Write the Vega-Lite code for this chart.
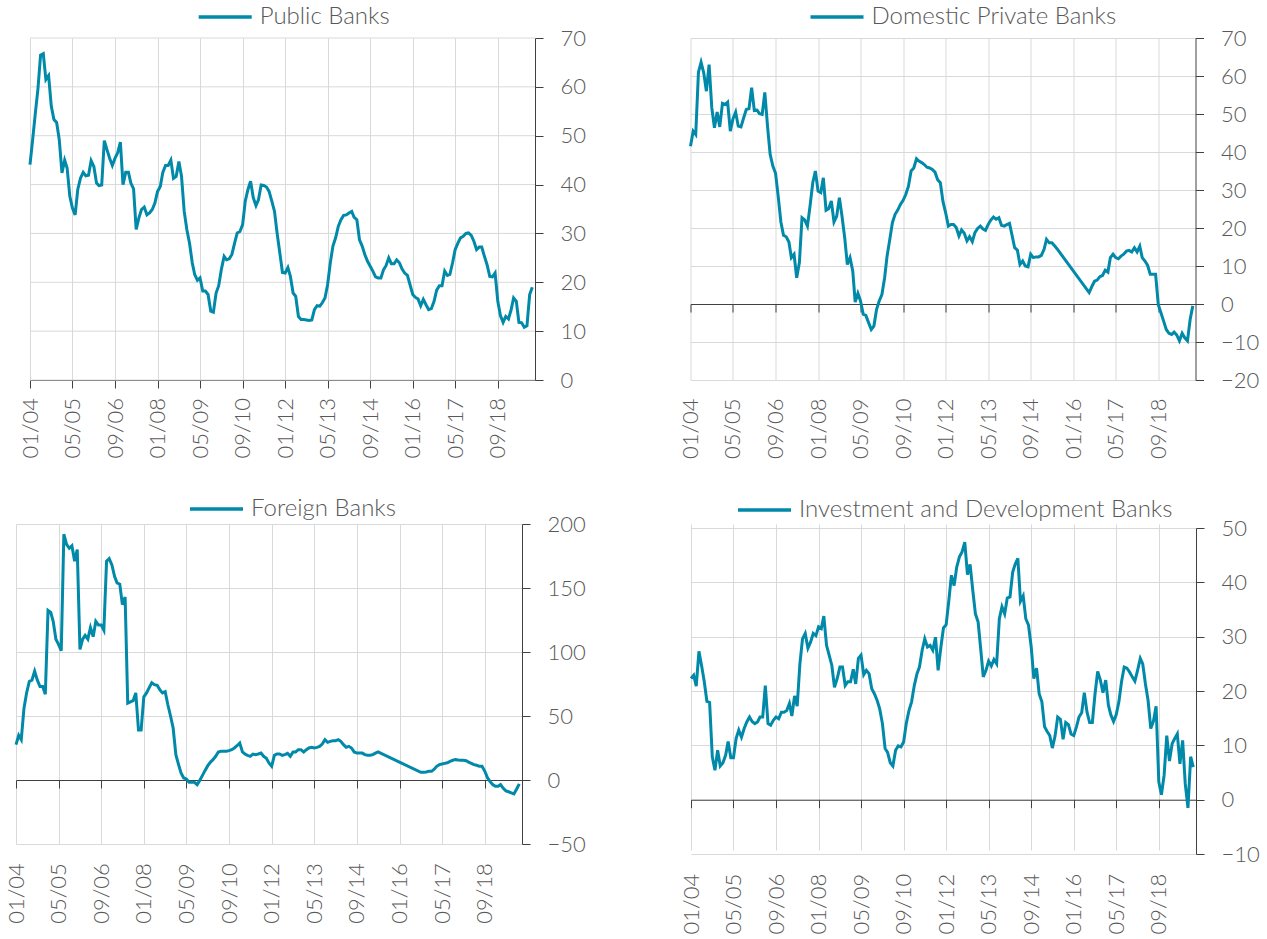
{
"$schema": "https://vega.github.io/schema/vega-lite/v6.json",
"padding": {"left": 5, "top": 4, "right": 5, "bottom": 5},
"background": "white",
"columns": 1,
"spacing": 37,
"resolve": {"scale": {"color": "independent"}, "legend": {"color": "independent"}},
"data": {"values": [
{"d":"2004/01/01","a":44.1,"b":41.5,"c":27.6,"i":22.3},
{"d":"2004/02/01","a":49.3,"b":45.5,"c":34.9,"i":22.9},
{"d":"2004/03/01","a":54.4,"b":44.6,"c":31.5,"i":20.9},
{"d":"2004/04/01","a":59.6,"b":61,"c":56,"i":27.3},
{"d":"2004/05/01","a":66.5,"b":63.6,"c":68,"i":24.7},
{"d":"2004/06/01","a":66.8,"b":60.8,"c":77,"i":21.7},
{"d":"2004/07/01","a":61.5,"b":56,"c":78,"i":18.1},
{"d":"2004/08/01","a":62.3,"b":63,"c":85,"i":17.9},
{"d":"2004/09/01","a":56,"b":51.6,"c":78,"i":7.9},
{"d":"2004/10/01","a":53.3,"b":46.4,"c":73,"i":5.4},
{"d":"2004/11/01","a":52.7,"b":50.5,"c":73,"i":9.1},
{"d":"2004/12/01","a":49.2,"b":46.6,"c":67,"i":6.2},
{"d":"2005/01/01","a":42.4,"b":52.8,"c":132.5,"i":6.8},
{"d":"2005/02/01","a":45,"b":52.5,"c":131,"i":8.2},
{"d":"2005/03/01","a":43.4,"b":53.1,"c":124,"i":10.7},
{"d":"2005/04/01","a":37.6,"b":45.5,"c":110,"i":7.7},
{"d":"2005/05/01","a":35.2,"b":48.7,"c":106,"i":7.7},
{"d":"2005/06/01","a":33.8,"b":50.5,"c":101,"i":11.3},
{"d":"2005/07/01","a":39,"b":46.8,"c":192,"i":12.8},
{"d":"2005/08/01","a":41.3,"b":46.6,"c":184,"i":11.5},
{"d":"2005/09/01","a":42.5,"b":49,"c":181,"i":13.1},
{"d":"2005/10/01","a":41.8,"b":51.2,"c":183,"i":14.3},
{"d":"2005/11/01","a":41.9,"b":51.4,"c":171,"i":15.2},
{"d":"2005/12/01","a":44.9,"b":56.9,"c":180,"i":14.4},
{"d":"2006/01/01","a":43.7,"b":50.9,"c":102,"i":14},
{"d":"2006/02/01","a":40.3,"b":51,"c":110,"i":14.3},
{"d":"2006/03/01","a":39.8,"b":50.1,"c":113,"i":15.2},
{"d":"2006/04/01","a":39.9,"b":49.9,"c":110,"i":15.2},
{"d":"2006/05/01","a":49,"b":55.7,"c":119,"i":21},
{"d":"2006/06/01","a":47.1,"b":46.8,"c":112,"i":14},
{"d":"2006/07/01","a":45.4,"b":39.4,"c":124,"i":13.7},
{"d":"2006/08/01","a":43.9,"b":36.3,"c":121,"i":14.6},
{"d":"2006/09/01","a":45.4,"b":34.4,"c":121,"i":15.2},
{"d":"2006/10/01","a":46.5,"b":28.4,"c":117,"i":14.9},
{"d":"2006/11/01","a":48.7,"b":21.6,"c":171,"i":16.1},
{"d":"2006/12/01","a":40,"b":18.1,"c":173,"i":16.1},
{"d":"2007/01/01","a":42.5,"b":17.7,"c":168,"i":16.4},
{"d":"2007/02/01","a":42.5,"b":16.3,"c":159,"i":17.7},
{"d":"2007/03/01","a":40.3,"b":12.2,"c":154,"i":15.4},
{"d":"2007/04/01","a":39.1,"b":13.1,"c":153,"i":19.1},
{"d":"2007/05/01","a":30.8,"b":6.9,"c":137,"i":17.2},
{"d":"2007/06/01","a":33.2,"b":10.9,"c":143,"i":25},
{"d":"2007/07/01","a":34.9,"b":22.7,"c":60,"i":29.6},
{"d":"2007/08/01","a":35.4,"b":22.1,"c":61,"i":30.6},
{"d":"2007/09/01","a":33.8,"b":20.5,"c":62,"i":27.9},
{"d":"2007/10/01","a":34.2,"b":25.8,"c":68,"i":29},
{"d":"2007/11/01","a":34.9,"b":31.9,"c":39,"i":30.6},
{"d":"2007/12/01","a":36.2,"b":35,"c":39,"i":30.2},
{"d":"2008/01/01","a":38.6,"b":29.7,"c":65,"i":31.8},
{"d":"2008/02/01","a":39.6,"b":29.3,"c":68,"i":31.5},
{"d":"2008/03/01","a":42.5,"b":33.2,"c":72,"i":33.8},
{"d":"2008/04/01","a":43.9,"b":24.7,"c":76,"i":28.4},
{"d":"2008/05/01","a":43.9,"b":25.1,"c":74.5,"i":26.6},
{"d":"2008/06/01","a":45,"b":27.1,"c":74,"i":24.7},
{"d":"2008/07/01","a":41.3,"b":21.6,"c":70.6,"i":20.7},
{"d":"2008/08/01","a":41.7,"b":23.1,"c":68,"i":22.3},
{"d":"2008/09/01","a":44.7,"b":28,"c":69,"i":24.4},
{"d":"2008/10/01","a":41.7,"b":23.1,"c":59,"i":24.4},
{"d":"2008/11/01","a":34.5,"b":17.4,"c":50,"i":21},
{"d":"2008/12/01","a":30.8,"b":10.4,"c":40.6,"i":21.7},
{"d":"2009/01/01","a":28,"b":12.2,"c":19.8,"i":21.7},
{"d":"2009/02/01","a":24,"b":8.7,"c":12,"i":24},
{"d":"2009/03/01","a":21.6,"b":0.5,"c":5.5,"i":21.3},
{"d":"2009/04/01","a":20.4,"b":2.8,"c":1.6,"i":26},
{"d":"2009/05/01","a":20.9,"b":0.8,"c":0.8,"i":26.6},
{"d":"2009/06/01","a":18.2,"b":-2.7,"c":-1.8,"i":23},
{"d":"2009/07/01","a":18.2,"b":-3,"c":-1.8,"i":23.8},
{"d":"2009/08/01","a":17.5,"b":-4.9,"c":-1.8,"i":23.2},
{"d":"2009/09/01","a":14.1,"b":-6.7,"c":-3.6,"i":20.4},
{"d":"2009/10/01","a":13.9,"b":-5.8,"c":-0.3,"i":19.5},
{"d":"2009/11/01","a":17.8,"b":-1.4,"c":3.6,"i":18.3},
{"d":"2009/12/01","a":19.3,"b":0.8,"c":7.5,"i":16.7},
{"d":"2010/01/01","a":22.7,"b":2.5,"c":11.2,"i":14},
{"d":"2010/02/01","a":25.3,"b":6.9,"c":14,"i":9.4},
{"d":"2010/03/01","a":24.6,"b":12.6,"c":15.9,"i":8.7},
{"d":"2010/04/01","a":24.8,"b":17,"c":18.5,"i":6.8},
{"d":"2010/05/01","a":25.7,"b":21.4,"c":21.9,"i":6.2},
{"d":"2010/06/01","a":28,"b":23.6,"c":22.4,"i":9.1},
{"d":"2010/07/01","a":30.1,"b":24.7,"c":22.4,"i":9.9},
{"d":"2010/08/01","a":30.4,"b":26.2,"c":22.4,"i":9.7},
{"d":"2010/09/01","a":31.8,"b":27.3,"c":22.9,"i":10.6},
{"d":"2010/10/01","a":36.6,"b":28.8,"c":23.7,"i":14},
{"d":"2010/11/01","a":39,"b":31,"c":25,"i":16.4},
{"d":"2010/12/01","a":40.7,"b":35,"c":26.8,"i":18},
{"d":"2011/01/01","a":37.3,"b":35.8,"c":28.9,"i":21},
{"d":"2011/02/01","a":35.7,"b":38.2,"c":21.9,"i":23.2},
{"d":"2011/03/01","a":36.9,"b":37.6,"c":20.3,"i":24.4},
{"d":"2011/04/01","a":39.9,"b":37.2,"c":19.3,"i":27.5},
{"d":"2011/05/01","a":39.8,"b":36.7,"c":18.5,"i":29.6},
{"d":"2011/06/01","a":39.5,"b":36,"c":20.3,"i":28.1},
{"d":"2011/07/01","a":38.6,"b":35.8,"c":19.8,"i":28.4},
{"d":"2011/08/01","a":36.6,"b":35.4,"c":20.3,"i":27.5},
{"d":"2011/09/01","a":34.5,"b":34.7,"c":21,"i":29.9},
{"d":"2011/10/01","a":30,"b":32.7,"c":18.5,"i":23.8},
{"d":"2011/11/01","a":26,"b":31.9,"c":17,"i":28},
{"d":"2011/12/01","a":22,"b":27,"c":13.3,"i":31.6},
{"d":"2012/01/01","a":21.9,"b":24,"c":10.7,"i":32.2},
{"d":"2012/02/01","a":23,"b":20.5,"c":19.3,"i":36.7},
{"d":"2012/03/01","a":21.2,"b":20.9,"c":20.3,"i":41.3},
{"d":"2012/04/01","a":17.8,"b":20.9,"c":20.3,"i":39.4},
{"d":"2012/05/01","a":17.1,"b":20.1,"c":19.3,"i":42.8},
{"d":"2012/06/01","a":13,"b":17.9,"c":19.8,"i":44.7},
{"d":"2012/07/01","a":12.4,"b":19.5,"c":20.8,"i":45.6},
{"d":"2012/08/01","a":12.4,"b":18.6,"c":18.5,"i":47.4},
{"d":"2012/09/01","a":12.3,"b":16.6,"c":21.9,"i":41.4},
{"d":"2012/10/01","a":12.2,"b":17.7,"c":21.9,"i":43.3},
{"d":"2012/11/01","a":12.3,"b":16.4,"c":23.7,"i":38.5},
{"d":"2012/12/01","a":14.4,"b":18.8,"c":23.7,"i":34.2},
{"d":"2013/01/01","a":15.2,"b":19.9,"c":21.9,"i":32.7},
{"d":"2013/02/01","a":15.1,"b":20.5,"c":23.7,"i":27.5},
{"d":"2013/03/01","a":15.8,"b":19.8,"c":25,"i":22.6},
{"d":"2013/04/01","a":16.8,"b":19.4,"c":25.5,"i":23.8},
{"d":"2013/05/01","a":19.5,"b":20.9,"c":25,"i":25.5},
{"d":"2013/06/01","a":24,"b":22.1,"c":25.5,"i":24.6},
{"d":"2013/07/01","a":27.4,"b":22.9,"c":26.3,"i":25.8},
{"d":"2013/08/01","a":29.1,"b":22.3,"c":28.1,"i":25},
{"d":"2013/09/01","a":31.5,"b":22.7,"c":31.5,"i":33.3},
{"d":"2013/10/01","a":32.8,"b":20.7,"c":29.4,"i":35.5},
{"d":"2013/11/01","a":33.7,"b":20.5,"c":30.2,"i":34.2},
{"d":"2013/12/01","a":33.8,"b":20.9,"c":30.7,"i":37.1},
{"d":"2014/01/01","a":34.2,"b":21.2,"c":30.7,"i":37.3},
{"d":"2014/02/01","a":34.5,"b":17.9,"c":31.5,"i":41.9},
{"d":"2014/03/01","a":33.3,"b":14.8,"c":30.2,"i":43.3},
{"d":"2014/04/01","a":32.8,"b":14.2,"c":27.6,"i":44.4},
{"d":"2014/05/01","a":28.7,"b":10.4,"c":25.5,"i":36.5},
{"d":"2014/06/01","a":27.4,"b":11.3,"c":26.3,"i":37.5},
{"d":"2014/07/01","a":25.7,"b":10,"c":25,"i":33.3},
{"d":"2014/08/01","a":24.3,"b":9.8,"c":21.9,"i":32.1},
{"d":"2014/09/01","a":23.3,"b":13.1,"c":21,"i":28.1},
{"d":"2014/10/01","a":22.3,"b":12.2,"c":21,"i":22.3},
{"d":"2014/11/01","a":21.1,"b":12.4,"c":21,"i":24.2},
{"d":"2014/12/01","a":20.9,"b":12.4,"c":19.8,"i":19.5},
{"d":"2015/01/01","a":20.9,"b":12.8,"c":19.3,"i":18},
{"d":"2015/02/01","a":22.6,"b":14.4,"c":19.3,"i":13.4},
{"d":"2015/03/01","a":23.4,"b":17,"c":19.8,"i":12.6},
{"d":"2015/04/01","a":25,"b":16.1,"c":21,"i":11.8},
{"d":"2015/05/01","a":23.8,"b":16.1,"c":21.9,"i":9.5},
{"d":"2015/06/01","a":23.8,"b":15.3,"c":null,"i":11.7},
{"d":"2015/07/01","a":24.6,"b":14.5,"c":null,"i":15.2},
{"d":"2015/08/01","a":24,"b":null,"c":null,"i":14.8},
{"d":"2015/09/01","a":22.7,"b":null,"c":null,"i":11.1},
{"d":"2015/10/01","a":21.9,"b":null,"c":null,"i":14.2},
{"d":"2015/11/01","a":21.4,"b":null,"c":null,"i":13.8},
{"d":"2015/12/01","a":19.5,"b":null,"c":null,"i":12.1},
{"d":"2016/01/01","a":17.5,"b":null,"c":null,"i":11.8},
{"d":"2016/02/01","a":16.9,"b":null,"c":null,"i":13.4},
{"d":"2016/03/01","a":16.6,"b":null,"c":null,"i":15.2},
{"d":"2016/04/01","a":15.2,"b":null,"c":null,"i":16},
{"d":"2016/05/01","a":16.5,"b":null,"c":null,"i":19.7},
{"d":"2016/06/01","a":15.4,"b":null,"c":null,"i":16.1},
{"d":"2016/07/01","a":14.4,"b":3,"c":null,"i":14.2},
{"d":"2016/08/01","a":14.6,"b":4.6,"c":null,"i":14.2},
{"d":"2016/09/01","a":16.1,"b":6,"c":6,"i":19.5},
{"d":"2016/10/01","a":18.4,"b":6.3,"c":6,"i":23.6},
{"d":"2016/11/01","a":19.3,"b":7.2,"c":6.3,"i":22},
{"d":"2016/12/01","a":19.3,"b":7.5,"c":6.8,"i":19.7},
{"d":"2017/01/01","a":22.3,"b":8.9,"c":6.8,"i":22},
{"d":"2017/02/01","a":21.4,"b":8.4,"c":8.5,"i":17.4},
{"d":"2017/03/01","a":21.6,"b":12.2,"c":10.7,"i":15.6},
{"d":"2017/04/01","a":24,"b":13.1,"c":12,"i":14.4},
{"d":"2017/05/01","a":26.7,"b":12.2,"c":12.5,"i":15.6},
{"d":"2017/06/01","a":28,"b":11.9,"c":13,"i":18},
{"d":"2017/07/01","a":29.1,"b":12.6,"c":13.5,"i":21.7},
{"d":"2017/08/01","a":29.4,"b":13.1,"c":14.6,"i":24.4},
{"d":"2017/09/01","a":30,"b":13.9,"c":15.4,"i":24.2},
{"d":"2017/10/01","a":30.1,"b":14.1,"c":15.9,"i":23.5},
{"d":"2017/11/01","a":29.6,"b":13.7,"c":15.6,"i":22.6},
{"d":"2017/12/01","a":28.4,"b":14.8,"c":15.4,"i":21.8},
{"d":"2018/01/01","a":26.7,"b":13.7,"c":15.4,"i":23.8},
{"d":"2018/02/01","a":27.2,"b":15.2,"c":15.1,"i":26},
{"d":"2018/03/01","a":27.2,"b":12.2,"c":14,"i":25},
{"d":"2018/04/01","a":25.3,"b":11.3,"c":13,"i":21.3},
{"d":"2018/05/01","a":23.6,"b":10.2,"c":12,"i":18.3},
{"d":"2018/06/01","a":21.2,"b":7.8,"c":11.5,"i":13.1},
{"d":"2018/07/01","a":21.1,"b":7.8,"c":10.7,"i":14.4},
{"d":"2018/08/01","a":21.9,"b":7.8,"c":10.7,"i":17.2},
{"d":"2018/09/01","a":16.1,"b":-0.2,"c":7,"i":3.3},
{"d":"2018/10/01","a":13.2,"b":-2.3,"c":2,"i":0.9},
{"d":"2018/11/01","a":11.8,"b":-4.5,"c":-1.3,"i":4.5},
{"d":"2018/12/01","a":13,"b":-6.7,"c":-3.6,"i":11.8},
{"d":"2019/01/01","a":12.5,"b":-7.7,"c":-4.9,"i":7.1},
{"d":"2019/02/01","a":14.4,"b":-8,"c":-4.9,"i":10.3},
{"d":"2019/03/01","a":16.8,"b":-7.4,"c":-3.6,"i":11.2},
{"d":"2019/04/01","a":16.1,"b":-8.2,"c":-6.5,"i":12.1},
{"d":"2019/05/01","a":11.8,"b":-9.7,"c":-8.5,"i":6.6},
{"d":"2019/06/01","a":11.7,"b":-7.7,"c":-9.2,"i":10.9},
{"d":"2019/07/01","a":10.8,"b":-8.9,"c":-10,"i":2.9},
{"d":"2019/08/01","a":11.1,"b":-9.7,"c":-10.9,"i":-1.5},
{"d":"2019/09/01","a":17.5,"b":-4,"c":-7,"i":7.9},
{"d":"2019/10/01","a":19,"b":-0.5,"c":-3,"i":6}
]},
"concat": [
{
"concat": [
{
"width": 519, "height": 342,
"layer": [
{
"data": {"values": [{"g":0},{"g":10},{"g":20},{"g":30},{"g":40},{"g":50},{"g":60},{"g":70}]},
"mark": {"type": "rule", "color": "#d9d9d9", "strokeWidth": 1},
"encoding": {
"x": {"datum": {"year":2004,"month":1,"date":1}, "type": "temporal", "title": null,
"scale": {"domain": [{"year":2004,"month":1,"date":1},{"year":2019,"month":11,"date":1}], "range": [14, 519]},
"axis": {"values": [{"year":2004,"month":1,"date":1},{"year":2005,"month":5,"date":1},{"year":2006,"month":9,"date":1},{"year":2008,"month":1,"date":1},{"year":2009,"month":5,"date":1},{"year":2010,"month":9,"date":1},{"year":2012,"month":1,"date":1},{"year":2013,"month":5,"date":1},{"year":2014,"month":9,"date":1},{"year":2016,"month":1,"date":1},{"year":2017,"month":5,"date":1},{"year":2018,"month":9,"date":1}],
"format": "%m/%y", "labelAngle": -90, "offset": 0, "labelPadding": 9.5}},
"x2": {"datum": {"year":2019,"month":11,"date":1}},
"y": {"field": "g", "type": "quantitative", "title": null,
"scale": {"domain": [0, 70], "nice": false, "zero": false},
"axis": {"orient": "right", "values": [0,10,20,30,40,50,60,70], "grid": false}}
}
},
{
"transform": [{"filter": "datum.a != null"}],
"mark": {"type": "line", "strokeWidth": 3},
"encoding": {
"x": {"field": "d", "type": "temporal", "title": null,
"scale": {"domain": [{"year":2004,"month":1,"date":1},{"year":2019,"month":11,"date":1}], "range": [14, 519]},
"axis": {"values": [{"year":2004,"month":1,"date":1},{"year":2005,"month":5,"date":1},{"year":2006,"month":9,"date":1},{"year":2008,"month":1,"date":1},{"year":2009,"month":5,"date":1},{"year":2010,"month":9,"date":1},{"year":2012,"month":1,"date":1},{"year":2013,"month":5,"date":1},{"year":2014,"month":9,"date":1},{"year":2016,"month":1,"date":1},{"year":2017,"month":5,"date":1},{"year":2018,"month":9,"date":1}],
"format": "%m/%y", "labelAngle": -90, "offset": 0, "labelPadding": 9.5}},
"y": {"field": "a", "type": "quantitative", "title": null,
"scale": {"domain": [0, 70], "nice": false, "zero": false},
"axis": {"orient": "right", "values": [0,10,20,30,40,50,60,70], "grid": false}},
"color": {"datum": "Public Banks", "scale": {"range": ["#0089a8"]},
"legend": {"legendX": 180.7, "legendY": -34}}
}
}
]
},
{
"width": 505, "height": 342,
"transform": [{"filter": "datum.b != null"}],
"mark": {"type": "line", "strokeWidth": 3},
"encoding": {
"x": {"field": "d", "type": "temporal", "title": null,
"scale": {"domain": [{"year":2004,"month":1,"date":1},{"year":2019,"month":11,"date":1}]},
"axis": {"values": [{"year":2004,"month":1,"date":1},{"year":2005,"month":5,"date":1},{"year":2006,"month":9,"date":1},{"year":2008,"month":1,"date":1},{"year":2009,"month":5,"date":1},{"year":2010,"month":9,"date":1},{"year":2012,"month":1,"date":1},{"year":2013,"month":5,"date":1},{"year":2014,"month":9,"date":1},{"year":2016,"month":1,"date":1},{"year":2017,"month":5,"date":1},{"year":2018,"month":9,"date":1}],
"format": "%m/%y", "labelAngle": -90, "offset": -76, "labelPadding": 86}},
"y": {"field": "b", "type": "quantitative", "title": null,
"scale": {"domain": [-20, 70], "nice": false, "zero": false},
"axis": {"orient": "right", "values": [-20,-10,0,10,20,30,40,50,60,70]}},
"color": {"datum": "Domestic Private Banks", "scale": {"range": ["#0089a8"]},
"legend": {"legendX": 118, "legendY": -34}}
}
}
],
"columns": 2,
"spacing": 93.5,
"resolve": {"scale": {"color": "independent"}, "legend": {"color": "independent"}}
},
{
"concat": [
{
"width": 506, "height": 320,
"transform": [{"filter": "datum.c != null"}],
"mark": {"type": "line", "strokeWidth": 3},
"encoding": {
"x": {"field": "d", "type": "temporal", "title": null,
"scale": {"domain": [{"year":2004,"month":1,"date":1},{"year":2019,"month":11,"date":1}]},
"axis": {"values": [{"year":2004,"month":1,"date":1},{"year":2005,"month":5,"date":1},{"year":2006,"month":9,"date":1},{"year":2008,"month":1,"date":1},{"year":2009,"month":5,"date":1},{"year":2010,"month":9,"date":1},{"year":2012,"month":1,"date":1},{"year":2013,"month":5,"date":1},{"year":2014,"month":9,"date":1},{"year":2016,"month":1,"date":1},{"year":2017,"month":5,"date":1},{"year":2018,"month":9,"date":1}],
"format": "%m/%y", "labelAngle": -90, "offset": -64, "labelPadding": 74.7}},
"y": {"field": "c", "type": "quantitative", "title": null,
"scale": {"domain": [-50, 200], "nice": false, "zero": false},
"axis": {"orient": "right", "values": [-50,0,50,100,150,200]}},
"color": {"datum": "Foreign Banks", "scale": {"range": ["#0089a8"]},
"legend": {"legendX": 172, "legendY": -28}}
}
},
{
"width": 505, "height": 330,
"transform": [{"filter": "datum.i != null"}],
"mark": {"type": "line", "strokeWidth": 3},
"encoding": {
"x": {"field": "d", "type": "temporal", "title": null,
"scale": {"domain": [{"year":2004,"month":1,"date":1},{"year":2019,"month":11,"date":1}]},
"axis": {"values": [{"year":2004,"month":1,"date":1},{"year":2005,"month":5,"date":1},{"year":2006,"month":9,"date":1},{"year":2008,"month":1,"date":1},{"year":2009,"month":5,"date":1},{"year":2010,"month":9,"date":1},{"year":2012,"month":1,"date":1},{"year":2013,"month":5,"date":1},{"year":2014,"month":9,"date":1},{"year":2016,"month":1,"date":1},{"year":2017,"month":5,"date":1},{"year":2018,"month":9,"date":1}],
"format": "%m/%y", "labelAngle": -90, "offset": -54.3, "labelPadding": 65.6}},
"y": {"field": "i", "type": "quantitative", "title": null,
"scale": {"domain": [-10, 50], "nice": false, "zero": false, "range": [330, 4]},
"axis": {"orient": "right", "values": [-10,0,10,20,30,40,50]}},
"color": {"datum": "Investment and Development Banks", "scale": {"range": ["#0089a8"]},
"legend": {"legendX": 45, "legendY": -27}}
}
}
],
"columns": 2,
"spacing": 94,
"resolve": {"scale": {"color": "independent"}, "legend": {"color": "independent"}}
}
],
"config": {
"view": {"stroke": null},
"axis": {"labelFont": "Lato", "labelFontSize": 22, "labelFontWeight": 300, "labelColor": "#595959",
"gridColor": "#d9d9d9", "gridWidth": 1, "grid": true, "domainColor": "#404040", "domainWidth": 1,
"tickColor": "#404040", "tickSize": 8, "tickWidth": 1, "labelFlush": false, "labelOverlap": false, "labelBound": false},
"axisY": {"labelPadding": 17},
"legend": {"orient": "none", "title": null, "symbolType": "stroke", "symbolSize": 2809, "symbolStrokeWidth": 3.5,
"labelFont": "Lato", "labelFontSize": 24, "labelFontWeight": 300, "labelColor": "#595959", "labelOffset": 6,
"clipHeight": 26, "padding": 0, "labelLimit": 600}
}
}
